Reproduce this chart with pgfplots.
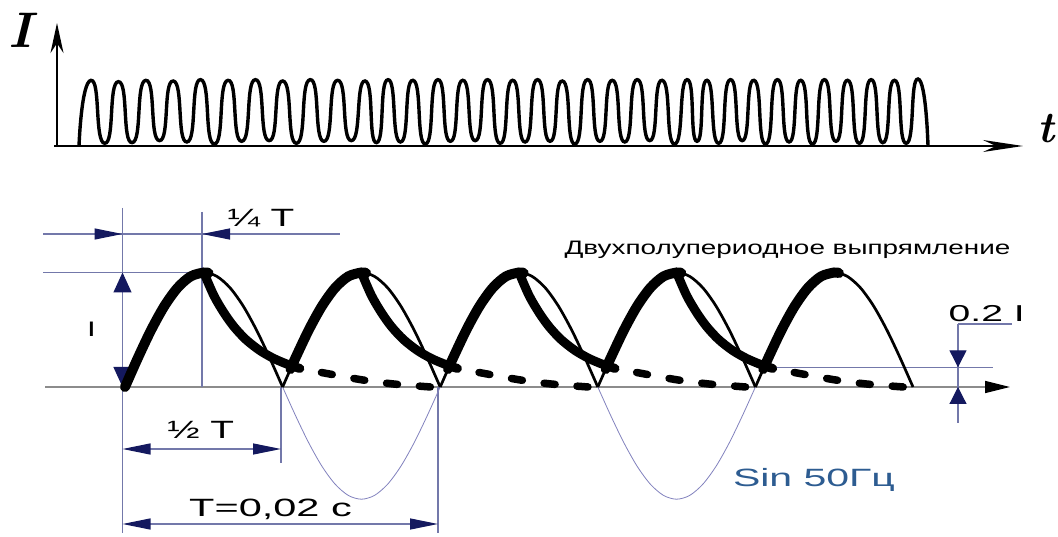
\documentclass[border=0pt]{standalone}
\usepackage{fontspec}
\newfontfamily\arial{Liberation Sans}
\usepackage{graphicx}
\usepackage{pgfplots}
\pgfplotsset{compat=1.18}
\usetikzlibrary{arrows.meta}
\definecolor{navyarr}{RGB}{20,25,95}
\definecolor{dimline}{RGB}{115,120,170}
\definecolor{axisgray}{RGB}{140,140,140}
\definecolor{sinblue}{RGB}{45,92,145}
\definecolor{negsine}{RGB}{130,130,190}
\begin{document}
\begin{tikzpicture}[x=1pt,y=1pt]
\useasboundingbox (0,0) rectangle (1058,536);
\fill[white] (0,0) rectangle (1058,536);
% ---------- top axes (arrows) ----------
\draw[line width=2.2pt, -{Stealth[length=30pt,width=13pt]}] (57,389) -- (57,513);
\draw[line width=2.2pt, -{Stealth[length=40pt,width=12pt]}] (54,390) -- (1023,390);
% ---------- bottom annotations ----------
\draw[axisgray, line width=1.5pt, -{Triangle[length=25pt,width=12pt,color=black]}] (45,149) -- (1010,149);
\draw[dimline, line width=1.2pt] (122.5,328) -- (122.5,3);
\draw[dimline, line width=1.2pt] (202,324) -- (202,149);
\draw[dimline, line width=1.2pt] (43,302) -- (340,302);
\draw[dimline, line width=1.2pt] (43,263.5) -- (202,263.5);
\draw[dimline, line width=1.2pt] (281,149) -- (281,73);
\draw[dimline, line width=1.2pt] (438,149) -- (438,3);
\draw[dimline, line width=1.2pt] (772,168.7) -- (993,168.7);
\draw[dimline, line width=1.2pt] (958,212) -- (958,113);
\draw[dimline, line width=1.2pt] (958,212) -- (1012,212);
\draw[dimline, line width=1.2pt, -{Triangle[length=28pt,width=11pt,color=navyarr]}] (90,302) -- (122.5,302);
\draw[dimline, line width=1.2pt, -{Triangle[length=28pt,width=11pt,color=navyarr]}] (240,302) -- (202,302);
\draw[dimline, line width=1.2pt, {Triangle[length=20pt,width=18pt,color=navyarr]}-{Triangle[length=20pt,width=18pt,color=navyarr]}] (122.5,149) -- (122.5,263.5);
\draw[dimline, line width=1.2pt, {Triangle[length=28pt,width=11pt,color=navyarr]}-{Triangle[length=28pt,width=11pt,color=navyarr]}] (122.5,87) -- (281,87);
\draw[dimline, line width=1.2pt, {Triangle[length=28pt,width=11pt,color=navyarr]}-{Triangle[length=28pt,width=11pt,color=navyarr]}] (122.5,12) -- (438,12);
\draw[dimline, line width=1.2pt, -{Triangle[length=17pt,width=17pt,color=navyarr]}] (958,195) -- (958,168.7);
\draw[dimline, line width=1.2pt, -{Triangle[length=17pt,width=17pt,color=navyarr]}] (958,125) -- (958,149);
% ---------------- top: oscillogram ----------------
\begin{axis}[at={(0pt,0pt)}, anchor=south west, width=1058pt, height=536pt,
  scale only axis, hide axis, clip=false,
  xmin=-2.28, xmax=40.04, ymin=-5.8209, ymax=2.1791]
\addplot[line width=3.4pt, smooth, tension=1.35, black] coordinates {
(0.88,0) (1.36,0.98) (1.908,0.04) (2.456,0.96) (3.004,0.05) (3.552,0.98)
(4.1,0.08) (4.648,0.97) (5.196,0.06) (5.744,0.99) (6.292,0.03) (6.84,0.98)
(7.388,0.07) (7.936,0.99) (8.484,0.08) (9.032,0.97) (9.58,0.04) (10.128,0.99)
(10.676,0.07) (11.224,0.98) (11.772,0.08) (12.32,0.97) (12.78,0.05) (13.24,0.99)
(13.738,0.06) (14.236,0.98) (14.734,0.03) (15.232,0.99) (15.732,0.07) (16.232,0.98)
(16.73,0.08) (17.228,0.99) (17.726,0.04) (18.224,0.98) (18.722,0.06) (19.22,0.99)
(19.718,0.07) (20.216,0.97) (20.716,0.03) (21.216,0.99) (21.714,0.07) (22.212,0.98)
(22.71,0.06) (23.208,0.99) (23.706,0.08) (24.204,0.98) (24.702,0.03) (25.2,0.99)
(25.6,0.07) (26.0,0.98) (26.468,0.04) (26.936,0.99) (27.406,0.08) (27.876,0.98)
(28.344,0.03) (28.812,0.99) (29.282,0.06) (29.752,0.98) (30.22,0.03) (30.688,0.99)
(31.156,0.07) (31.624,0.98) (32.094,0.04) (32.564,0.99) (33.032,0.05) (33.5,0.98)
(33.97,0.04) (34.44,1.0) (34.84,0)
};
\end{axis}
% ---------------- bottom: full-wave rectification ----------------
\begin{axis}[at={(0pt,0pt)}, anchor=south west, width=1058pt, height=536pt,
  scale only axis, hide axis, clip=false,
  xmin=-0.39657, xmax=2.96002, ymin=-1.30131, ymax=3.37991]
\addplot[negsine, line width=0.8pt, smooth] coordinates {
(0.5,0) (0.54167,-0.2536) (0.58333,-0.49) (0.625,-0.693) (0.66667,-0.8487) (0.70833,-0.9466) (0.75,-0.98)
(0.79167,-0.9466) (0.83333,-0.8487) (0.875,-0.693) (0.91667,-0.49) (0.95833,-0.2536) (1.0,0)};
\addplot[negsine, line width=0.8pt, smooth] coordinates {
(1.5,0) (1.54167,-0.2536) (1.58333,-0.49) (1.625,-0.693) (1.66667,-0.8487) (1.70833,-0.9466) (1.75,-0.98)
(1.79167,-0.9466) (1.83333,-0.8487) (1.875,-0.693) (1.91667,-0.49) (1.95833,-0.2536) (2.0,0)};
\addplot[black, line width=2.7pt, smooth] coordinates {
(0,0) (0.04167,0.2588) (0.08333,0.5) (0.125,0.7071) (0.16667,0.866) (0.20833,0.9659) (0.25,1)
(0.29167,0.9659) (0.33333,0.866) (0.375,0.7071) (0.41667,0.5) (0.45833,0.2588) (0.5,0)};
\addplot[black, line width=2.7pt, smooth] coordinates {
(0.5,0) (0.54167,0.2588) (0.58333,0.5) (0.625,0.7071) (0.66667,0.866) (0.70833,0.9659) (0.75,1)
(0.79167,0.9659) (0.83333,0.866) (0.875,0.7071) (0.91667,0.5) (0.95833,0.2588) (1.0,0)};
\addplot[black, line width=2.7pt, smooth] coordinates {
(1.0,0) (1.04167,0.2588) (1.08333,0.5) (1.125,0.7071) (1.16667,0.866) (1.20833,0.9659) (1.25,1)
(1.29167,0.9659) (1.33333,0.866) (1.375,0.7071) (1.41667,0.5) (1.45833,0.2588) (1.5,0)};
\addplot[black, line width=2.7pt, smooth] coordinates {
(1.5,0) (1.54167,0.2588) (1.58333,0.5) (1.625,0.7071) (1.66667,0.866) (1.70833,0.9659) (1.75,1)
(1.79167,0.9659) (1.83333,0.866) (1.875,0.7071) (1.91667,0.5) (1.95833,0.2588) (2.0,0)};
\addplot[black, line width=2.7pt, smooth] coordinates {
(2.0,0) (2.04167,0.2588) (2.08333,0.5) (2.125,0.7071) (2.16667,0.866) (2.20833,0.9659) (2.25,1)
(2.29167,0.9659) (2.33333,0.866) (2.375,0.7071) (2.41667,0.5) (2.45833,0.2588) (2.5,0)};
\addplot[black, line width=10pt, line cap=round, smooth] coordinates {
(0,0) (0.04167,0.2588) (0.08333,0.5) (0.125,0.7071) (0.16667,0.866) (0.20833,0.9659) (0.25,1) (0.265,0.995)};
\addplot[black, line width=10pt, line cap=round, smooth] coordinates {
(0.525,0.1564) (0.54167,0.2588) (0.58333,0.5) (0.625,0.7071) (0.66667,0.866) (0.70833,0.9659) (0.75,1) (0.765,0.995)};
\addplot[black, line width=10pt, line cap=round, smooth] coordinates {
(1.025,0.1564) (1.04167,0.2588) (1.08333,0.5) (1.125,0.7071) (1.16667,0.866) (1.20833,0.9659) (1.25,1) (1.265,0.995)};
\addplot[black, line width=10pt, line cap=round, smooth] coordinates {
(1.525,0.1564) (1.54167,0.2588) (1.58333,0.5) (1.625,0.7071) (1.66667,0.866) (1.70833,0.9659) (1.75,1) (1.765,0.995)};
\addplot[black, line width=10pt, line cap=round, smooth] coordinates {
(2.025,0.1564) (2.04167,0.2588) (2.08333,0.5) (2.125,0.7071) (2.16667,0.866) (2.20833,0.9659) (2.25,1) (2.265,0.995)};
\addplot[black, line width=9pt, line cap=round, smooth] coordinates {
(0.25,1) (0.2817,0.80) (0.3135,0.65) (0.3452,0.528) (0.3833,0.415) (0.4277,0.319) (0.4721,0.249) (0.5165,0.197) (0.5546,0.162)};
\addplot[black, line width=9pt, line cap=round, smooth] coordinates {
(0.75,1) (0.7817,0.80) (0.8135,0.65) (0.8452,0.528) (0.8833,0.415) (0.9277,0.319) (0.9721,0.249) (1.0165,0.197) (1.0546,0.162)};
\addplot[black, line width=9pt, line cap=round, smooth] coordinates {
(1.25,1) (1.2817,0.80) (1.3135,0.65) (1.3452,0.528) (1.3833,0.415) (1.4277,0.319) (1.4721,0.249) (1.5165,0.197) (1.5546,0.162)};
\addplot[black, line width=9pt, line cap=round, smooth] coordinates {
(1.75,1) (1.7817,0.80) (1.8135,0.65) (1.8452,0.528) (1.8833,0.415) (1.9277,0.319) (1.9721,0.249) (2.0165,0.197) (2.0546,0.162)};
\addplot[black, line width=7.5pt, line cap=round, dash pattern=on 11pt off 22pt, dash phase=11pt, smooth] coordinates {
(0.5546,0.162) (0.65,0.113) (0.755,0.061) (0.853,0.026) (0.97,0.0)};
\addplot[black, line width=7.5pt, line cap=round, dash pattern=on 11pt off 22pt, dash phase=11pt, smooth] coordinates {
(1.0546,0.162) (1.15,0.113) (1.255,0.061) (1.353,0.026) (1.47,0.0)};
\addplot[black, line width=7.5pt, line cap=round, dash pattern=on 11pt off 22pt, dash phase=11pt, smooth] coordinates {
(1.5546,0.162) (1.65,0.113) (1.755,0.061) (1.853,0.026) (1.97,0.0)};
\addplot[black, line width=7.5pt, line cap=round, dash pattern=on 11pt off 22pt, dash phase=11pt, smooth] coordinates {
(2.0546,0.162) (2.15,0.113) (2.255,0.061) (2.353,0.026) (2.47,0.0)};
\end{axis}
% ---------------- texts ----------------
\node[anchor=base, inner sep=0pt] at (20,488) {\fontsize{50}{50}\selectfont\bfseries\itshape I};
\node[anchor=base, inner sep=0pt] at (1046,393) {\fontsize{44}{44}\selectfont\bfseries\itshape t};
\node[anchor=base, inner sep=0pt] at (261,309) {\arial\fontsize{25}{30}\selectfont\scalebox{1.55}[1]{¼ T}};
\node[anchor=base, inner sep=0pt] at (91.5,199.3) {\arial\fontsize{21}{25}\selectfont\scalebox{1.5}[1]{I}};
\node[anchor=base, inner sep=0pt] at (200.8,97.7) {\arial\fontsize{25}{30}\selectfont\scalebox{1.55}[1]{½ T}};
\node[anchor=base, inner sep=0pt] at (270.5,19.3) {\arial\fontsize{25}{30}\selectfont\scalebox{1.66}[1]{T=0,02 c}};
\node[anchor=base, inner sep=0pt] at (986.7,214.3) {\arial\fontsize{23}{28}\selectfont\scalebox{1.7}[1]{0.2 I}};
\node[anchor=base, inner sep=0pt] at (787.5,281.7) {\arial\fontsize{19.5}{24}\selectfont\scalebox{1.43}[1]{Двухполупериодное выпрямление}};
\node[anchor=base, inner sep=0pt, text=sinblue] at (814,49.3) {\arial\fontsize{25}{30}\selectfont\scalebox{1.64}[1]{Sin 50Гц}};
\end{tikzpicture}
\end{document}
